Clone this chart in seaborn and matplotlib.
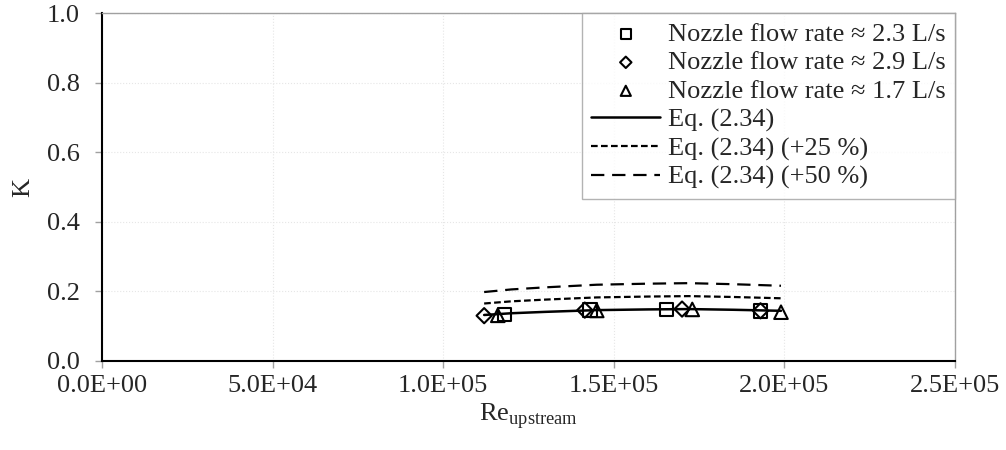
import numpy as np
import pandas as pd
import matplotlib
matplotlib.use("Agg")
import matplotlib.pyplot as plt
import seaborn as sns

# Measured loss coefficients for three nozzle flow rates
re_23 = [118000, 143000, 165500, 193000]
k_23 = [0.134, 0.146, 0.148, 0.144]
re_29 = [112000, 141500, 170000, 193000]
k_29 = [0.130, 0.146, 0.149, 0.144]
re_17 = [116000, 145000, 173000, 199000]
k_17 = [0.131, 0.145, 0.148, 0.140]

# Eq. (2.34) evaluated across the measured range
re_eq = [112000, 120000, 130000, 145000, 160000, 172000, 185000, 199000]
k_eq = [0.132, 0.137, 0.141, 0.146, 0.148, 0.149, 0.147, 0.144]
eq_factors = [1.00, 1.25, 1.50]
eq_labels = ["Eq. (2.34)", "Eq. (2.34) (+25 %)", "Eq. (2.34) (+50 %)"]

series_labels = ["Nozzle flow rate \u2248 2.3 L/s",
                 "Nozzle flow rate \u2248 2.9 L/s",
                 "Nozzle flow rate \u2248 1.7 L/s"]

x_ticks = [0, 50000, 100000, 150000, 200000, 250000]
x_tick_labels = ["0.0E+00", "5.0E+04", "1.0E+05", "1.5E+05", "2.0E+05", "2.5E+05"]
y_ticks = [0.0, 0.2, 0.4, 0.6, 0.8, 1.0]

FS = 19

sns.set_theme(style="white")
plt.rcParams["font.family"] = ["Liberation Serif", "DejaVu Serif"]
plt.rcParams["mathtext.fontset"] = "custom"
plt.rcParams["mathtext.rm"] = "Liberation Serif"

fig = plt.figure(figsize=(10.06, 4.5), dpi=100)
ax = fig.add_axes([0.1014, 0.198, 0.8479, 0.773])

# Equation curves
eq_styles = [(None, 1.8), ((3.0, 1.5), 1.6), ((6.0, 3.5), 1.6)]
for f, lab, (dash, lw) in zip(eq_factors, eq_labels, eq_styles):
    d = pd.DataFrame({"Re": re_eq, "K": [v * f for v in k_eq]})
    sns.lineplot(data=d, x="Re", y="K", ax=ax, color="black", lw=lw,
                 label=lab, zorder=2)
    line = ax.get_lines()[-1]
    if dash is not None:
        line.set_dashes(dash)

# Measured points
for re_v, k_v, m, lab in [(re_23, k_23, "s", series_labels[0]),
                          (re_29, k_29, "D", series_labels[1]),
                          (re_17, k_17, "^", series_labels[2])]:
    d = pd.DataFrame({"Re": re_v, "K": k_v})
    sns.scatterplot(data=d, x="Re", y="K", ax=ax, marker=m,
                    s=95 if m != "D" else 60,
                    facecolor="none", edgecolor="black", linewidth=1.5,
                    label=lab, zorder=3)

ax.set_xlim(0, 250000)
ax.set_ylim(0, 1.0)
ax.set_xticks(x_ticks)
ax.set_xticklabels(x_tick_labels)
ax.set_yticks(y_ticks)
ax.set_yticklabels([f"{v:.1f}" for v in y_ticks])
ax.tick_params(axis="both", labelsize=FS, length=5, width=1, color="#a0a0a0",
               direction="out", bottom=True, left=True)
ax.tick_params(axis="y", pad=11)
ax.tick_params(axis="x", pad=5)
ax.grid(True, color="#e6e6e6", linestyle=":", linewidth=0.8)
ax.set_axisbelow(True)

for side in ["left", "bottom"]:
    ax.spines[side].set_color("black")
    ax.spines[side].set_linewidth(1.5)
for side in ["top", "right"]:
    ax.spines[side].set_color("#a0a0a0")
    ax.spines[side].set_linewidth(1.0)

ax.set_xlabel(r"Re$_{\mathregular{upstream}}$", fontsize=FS, labelpad=3)
ax.set_ylabel("K", fontsize=FS, labelpad=9)

# Legend: markers first, then equation lines
handles, labels = ax.get_legend_handles_labels()
order = [labels.index(l) for l in series_labels + eq_labels]
leg = ax.legend([handles[i] for i in order], [labels[i] for i in order],
                loc="upper right", bbox_to_anchor=(1.0, 1.0),
                fontsize=FS, frameon=True, fancybox=False, borderaxespad=0,
                handlelength=2.6, handletextpad=0.3, labelspacing=0.19,
                borderpad=0.35, markerscale=0.75)
leg.get_frame().set_edgecolor("#a0a0a0")
leg.get_frame().set_linewidth(1.0)

fig.savefig("out.png", dpi=100)
